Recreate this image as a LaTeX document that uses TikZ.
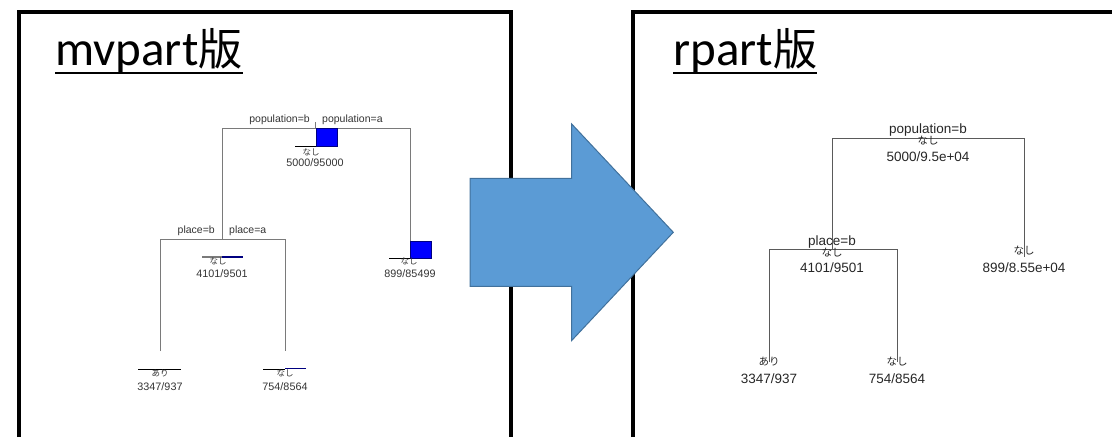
\documentclass[tikz,border=0pt]{standalone}
\usepackage{fontspec}
\setmainfont{Liberation Sans}
\newfontfamily\titlefont{Carlito}
\newfontfamily\jpfont{Noto Sans CJK JP}
\definecolor{arrowfill}{HTML}{5B9BD5}
\definecolor{arrowline}{HTML}{41719C}
\definecolor{treegrayL}{HTML}{7A7A7A}
\definecolor{treegrayR}{HTML}{5A5A5A}
\definecolor{txtL}{HTML}{333333}
\definecolor{txtR}{HTML}{262626}
\definecolor{navybar}{HTML}{000080}
\begin{document}
\begin{tikzpicture}[x=1pt,y=-1pt,
  panel/.style={line width=4pt, black},
  titletext/.style={inner sep=0pt, anchor=base west, font=\titlefont\fontsize{49}{55}\selectfont},
  uline/.style={line width=2pt, black},
  branchL/.style={draw=treegrayL, line width=1pt},
  branchR/.style={draw=treegrayR, line width=0.95pt},
  lblL/.style={inner sep=0pt, text=txtL, font=\fontsize{10.5}{12}\selectfont},
  numL/.style={inner sep=0pt, text=txtL, font=\fontsize{10.8}{12}\selectfont},
  jpL/.style={inner sep=0pt, text=txtL, font=\jpfont\fontsize{8.5}{9}\selectfont},
  lblR/.style={inner sep=0pt, text=txtR, font=\fontsize{13.5}{15}\selectfont},
  jpR/.style={inner sep=0pt, text=txtR, font=\jpfont\fontsize{10.5}{11}\selectfont},
  bigbar/.style={fill=blue, draw=navybar, line width=0.5pt},
  zerobar/.style={draw=black, line width=0.9pt},
  graybar/.style={draw=treegrayL, line width=1.8pt},
  navyline/.style={draw=navybar, line width=1.8pt},
  blockarrow/.style={fill=arrowfill, draw=arrowline, line width=1pt, line join=miter}
]
\useasboundingbox (0,0) rectangle (1112,437);

% ---------- panels ----------
\draw[panel] (18.5,437) -- (18.5,12) -- (511,12) -- (511,437);
\draw[panel] (633,437) -- (633,11.5) -- (1112,11.5);

% ---------- titles ----------
\node[titletext] (t1) at (55,65) {mvpart{\jpfont\fontsize{44}{50}\selectfont 版}};
\draw[uline] ([yshift=-8pt]t1.base west) -- ([yshift=-8pt]t1.base east);
\node[titletext] (t2) at (673,65) {rpart{\jpfont\fontsize{44}{50}\selectfont 版}};
\draw[uline] ([yshift=-8pt]t2.base west) -- ([yshift=-8pt]t2.base east);

% ---------- left tree (mvpart) ----------
\coordinate (A0) at (315.5,128);
\coordinate (A0t) at (315.5,122);
\coordinate (A0l) at (222,128);
\coordinate (A0r) at (410,128);
\coordinate (A1) at (222,239);
\coordinate (A1t) at (222,232);
\coordinate (A1l) at (160,239);
\coordinate (A1r) at (285,239);
\coordinate (A2) at (410,241);
\coordinate (A3) at (160,351);
\coordinate (A4) at (285,351);

\draw[branchL] (A0t) -- (A0);
\draw[branchL] (A1) -- (A0l) -- (A0r) -- (A2);
\draw[branchL] (A1t) -- (A1);
\draw[branchL] (A3) -- (A1l) -- (A1r) -- (A4);

% root bars
\draw[zerobar] (295,146) -- (316,146);
\filldraw[bigbar] (316,128) rectangle (337,146);
% right leaf bars
\draw[zerobar] (389,258) -- (410,258);
\filldraw[bigbar] (410,241) rectangle (431,258);
% node 2 bars
\draw[graybar] (202,257) -- (222,257);
\draw[navyline] (222,257) -- (243,257);
% leaf bars
\draw[zerobar] (138,369) -- (181,369);
\draw[zerobar] (263,369) -- (285,369);
\draw[navyline] (285,368.5) -- (306,368.5);

\node[lblL, anchor=east] (pbL) at (310,120) {population=b};
\node[lblL, anchor=west] (paL) at (322,120) {population=a};
\node[jpL] (n0L) at (311,152) {なし};
\node[numL] (c0L) at (315,163) {5000/95000};

\node[lblL, anchor=east] (plbL) at (215,231) {place=b};
\node[lblL, anchor=west] (plaL) at (229,231) {place=a};
\node[jpL] (n1L) at (218,261.5) {なし};
\node[numL] (c1L) at (222,274) {4101/9501};

\node[jpL] (n2L) at (409,261.5) {なし};
\node[numL] (c2L) at (410,274) {899/85499};

\node[jpL] (n3L) at (160,373) {あり};
\node[numL] (c3L) at (160,386.5) {3347/937};
\node[jpL] (n4L) at (285,373) {なし};
\node[numL] (c4L) at (285,386.5) {754/8564};

% ---------- right tree (rpart) ----------
\coordinate (B0l) at (832,138);
\coordinate (B0r) at (1024,138);
\coordinate (B1) at (832,249);
\coordinate (B1l) at (769,249);
\coordinate (B1r) at (897,249);
\coordinate (B2) at (1024,257);
\coordinate (B3) at (769,362);
\coordinate (B4) at (897,362);

\draw[branchR] (B1) -- (B0l) -- (B0r) -- (B2);
\draw[branchR] (B3) -- (B1l) -- (B1r) -- (B4);

\node[lblR] (pbR) at (928,130) {population=b};
\node[jpR] (n0R) at (928,141) {なし};
\node[lblR] (c0R) at (928,157) {5000/9.5e+04};

\node[lblR] (plbR) at (832,242) {place=b};
\node[jpR] (n1R) at (832,252.5) {なし};
\node[lblR] (c1R) at (832,267.5) {4101/9501};

\node[jpR] (n2R) at (1024,251) {なし};
\node[lblR] (c2R) at (1024,267.5) {899/8.55e+04};

\node[jpR] (n3R) at (769,362) {あり};
\node[lblR] (c3R) at (769,379) {3347/937};
\node[jpR] (n4R) at (897,362) {なし};
\node[lblR] (c4R) at (897,379) {754/8564};

% ---------- block arrow ----------
\draw[blockarrow] (470,178.3) -- (571.7,178.3) -- (571.7,124) -- (673.3,232.3)
  -- (571.7,340.5) -- (571.7,286.3) -- (470,286.3) -- cycle;
\end{tikzpicture}
\end{document}
